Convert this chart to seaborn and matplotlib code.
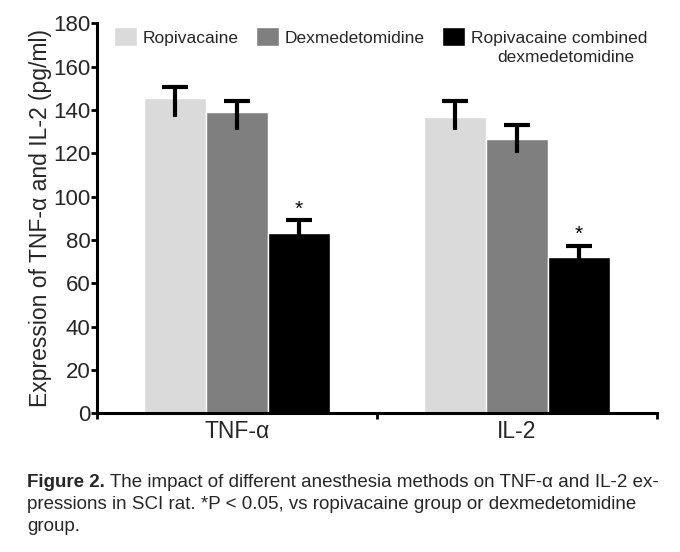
import pandas as pd
import matplotlib
matplotlib.use('Agg')
import matplotlib.pyplot as plt
import seaborn as sns
from matplotlib.ticker import FixedLocator

# Data
groups = ['TNF-α', 'IL-2']
methods = ['Ropivacaine', 'Dexmedetomidine', 'Ropivacaine combined']
method_second_line = ['', '', 'dexmedetomidine']
colors = ['#dadada', '#7f7f7f', '#000000']
tnf_means = [145.6, 139.2, 83.1]
il2_means = [136.9, 126.7, 72.0]
tnf_err_up = [5.1, 5.1, 6.0]
il2_err_up = [7.4, 6.3, 5.4]
tnf_err_low = [8.7, 8.5, 6.0]
il2_err_low = [6.2, 6.7, 5.4]
significant = [False, False, True]
yticks = [0, 20, 40, 60, 80, 100, 120, 140, 160, 180]

rows = []
for g, means in zip(groups, [tnf_means, il2_means]):
    for m, v in zip(methods, means):
        rows.append({'group': g, 'method': m, 'value': v})
df = pd.DataFrame(rows)

sns.set_style('white')
plt.rcParams['font.family'] = ['Liberation Sans', 'DejaVu Sans']

fig = plt.figure(figsize=(6.8, 5.52), dpi=100)
ax = fig.add_axes([97 / 680, 138.7 / 552, 560 / 680, 390 / 552])

sns.barplot(data=df, x='group', y='value', hue='method', order=groups,
            hue_order=methods, palette=colors, width=0.665, errorbar=None,
            saturation=1, legend=False, ax=ax)

err_up = [tnf_err_up, il2_err_up]
err_low = [tnf_err_low, il2_err_low]
for i, cont in enumerate(ax.containers):
    for j, bar in enumerate(cont):
        xc = bar.get_x() + bar.get_width() / 2
        top = bar.get_height()
        up = err_up[j][i]
        low = err_low[j][i]
        ax.vlines(xc, top - low, top + up, color='black', lw=3.0, zorder=3)
        ax.hlines(top + up, xc - 0.045, xc + 0.045, color='black', lw=3.0, zorder=3)
        if significant[i]:
            ax.text(xc, top + up + 0.8, '*', ha='center', va='bottom',
                    fontsize=15, color='black')

ax.set_xlim(-0.5, 1.5)
ax.set_ylim(0, 180)
ax.set_yticks(yticks)
ax.set_xlabel('')
ax.set_ylabel('Expression of TNF-α and IL-2 (pg/ml)', fontsize=16.5, labelpad=1)
ax.xaxis.set_minor_locator(FixedLocator([-0.5, 0.5, 1.5]))
ax.tick_params(axis='x', which='major', length=0, labelsize=16.5, pad=5)
ax.tick_params(axis='x', which='minor', length=4, width=2, direction='out',
               bottom=True, color='black')
ax.tick_params(axis='y', length=4, width=2, direction='out', left=True,
               labelsize=16, pad=0.5, color='black')
for side in ['top', 'right']:
    ax.spines[side].set_visible(False)
for side in ['left', 'bottom']:
    ax.spines[side].set_linewidth(2.2)
    ax.spines[side].set_color('black')

leg = ax.legend(ax.containers, methods, ncol=3, loc='upper left',
                bbox_to_anchor=(114 / 680, 1 - 27 / 552),
                bbox_transform=fig.transFigure, frameon=False, fontsize=12.5,
                handlelength=1.35, handleheight=1.35, handletextpad=0.3,
                columnspacing=1.0, borderpad=0, borderaxespad=0)
fig.canvas.draw()
for t, extra in zip(leg.get_texts(), method_second_line):
    if extra:
        ax.annotate(extra, xy=(0.54, 0), xycoords=t, xytext=(0, -3.5),
                    textcoords='offset points', ha='center', va='top',
                    fontsize=12.5, annotation_clip=False)

# Caption
cap_font = ['Liberation Sans', 'DejaVu Sans']
t1 = fig.text(27 / 680, 1 - 487 / 552, 'Figure 2.', fontsize=13.5,
              fontweight='bold', family=cap_font, va='baseline')
fig.canvas.draw()
ax.annotate(' The impact of different anesthesia methods on TNF-α and IL-2 ex-',
            xy=(1, 0), xycoords=t1, va='bottom', ha='left', fontsize=13.5,
            family=cap_font, annotation_clip=False)
fig.text(27 / 680, 1 - 509 / 552,
         'pressions in SCI rat. *P < 0.05, vs ropivacaine group or dexmedetomidine',
         fontsize=13.5, family=cap_font, va='baseline')
fig.text(27 / 680, 1 - 531 / 552, 'group.', fontsize=13.5, family=cap_font,
         va='baseline')

fig.savefig('out.png', dpi=100)
